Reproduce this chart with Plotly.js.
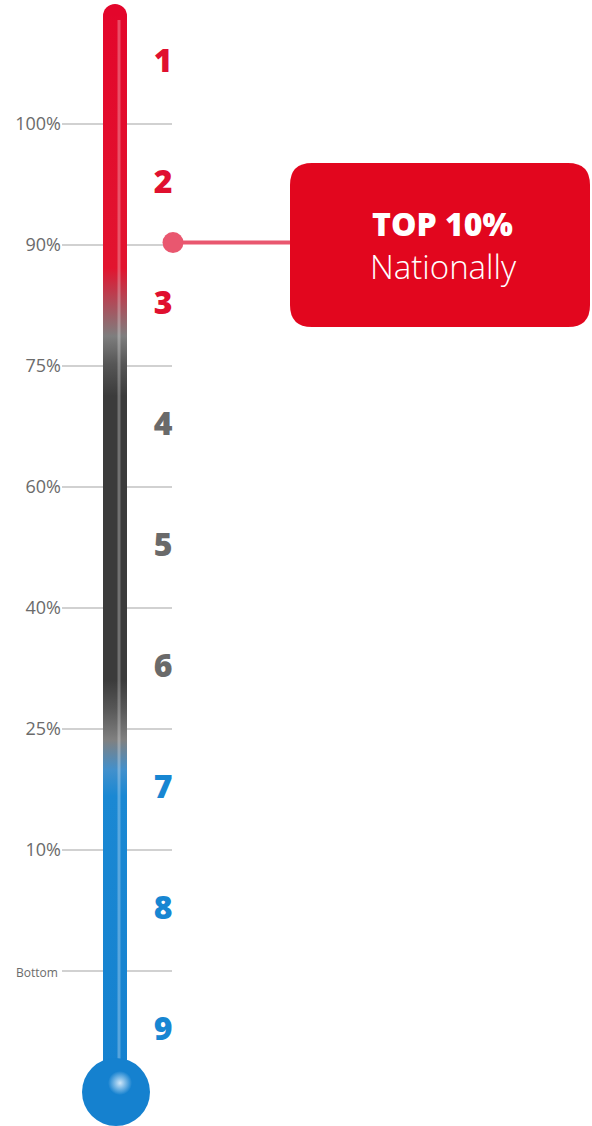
<!DOCTYPE html>
<html><head><meta charset="utf-8">
<script src="https://cdn.plot.ly/plotly-3.0.1.min.js"></script>
<style>html,body{margin:0;padding:0;background:#fff;}#chart{width:592px;height:1126px;}</style>
</head><body><div id="chart"></div>
<script>
// ---- data ----
const tickLabels = ["Bottom", "10%", "25%", "40%", "60%", "75%", "90%", "100%"];
const tickValues = [0, 1, 2, 3, 4, 5, 6, 7];
const rankLabels = ["1", "2", "3", "4", "5", "6", "7", "8", "9"];
const rankValues = [7.5, 6.5, 5.5, 4.5, 3.5, 2.5, 1.5, 0.5, -0.5];
const rankGroups = ["top", "top", "top", "mid", "mid", "mid", "low", "low", "low"];
const calloutValue = 6.02;          // marker just above the 90% line
const calloutBoxValue = 6;          // box centred on the 90% line
const calloutTitle = "TOP 10%";
const calloutSub = "Nationally";

// ---- styling / geometry ----
const RED = "#e3062b", GREY = "#3b3b3b", BLUE = "#1581cf";
const groupColors = {top: "#e0102f", mid: "#6a6a6a", low: "#1786d2"};
const PX_PER = 121, BASE_PX = 971;           // pixel of value 0, pixels per unit
const idx = py => (BASE_PX - py) / PX_PER;   // pixel row -> axis value
const H = 1126, W = 592, ML = 62;
const tubeL = 103, tubeR = 127, tubeTop = 16, bulbY = 1092;
const gradStops = [   // [pixel row, colour]
  [4, RED], [268, "#e2142f"], [302, "#b04a58"], [336, "#7e7e7e"], [364, "#565656"], [396, GREY],
  [680, GREY], [708, "#565656"], [740, "#808080"], [770, "#4290cc"], [796, "#1a88d3"], [bulbY, BLUE]
];
const colorscale = gradStops.slice().reverse().map(([py, c]) => [(bulbY - py) / (bulbY - 4), c]);

const gx = [], gy = [];
tickValues.forEach(v => { gx.push(ML, 172, null); gy.push(v, v, null); });

const traces = [
  {x: gx, y: gy, mode: "lines", line: {color: "#a3a3a3", width: 1}, hoverinfo: "skip"},
  {x: [115], y: [idx(tubeTop)], mode: "markers", marker: {size: 24, color: RED}, hoverinfo: "skip"},
  {x: [tubeL, tubeL, tubeR, tubeR], y: [idx(bulbY), idx(tubeTop), idx(tubeTop), idx(bulbY)],
   mode: "none", fill: "toself",
   fillgradient: {type: "vertical", start: idx(bulbY), stop: idx(4), colorscale: colorscale},
   hoverinfo: "skip"},
  {x: [119, 119], y: [idx(20), idx(1070)], mode: "lines",
   line: {color: "rgba(255,255,255,0.28)", width: 3}, hoverinfo: "skip"},
  {x: [116], y: [idx(bulbY)], mode: "markers", marker: {size: 68, color: BLUE, line: {width: 0}}, hoverinfo: "skip"},
  {x: [120], y: [idx(1083)], mode: "markers",
   marker: {size: 24, color: BLUE, line: {width: 0}, gradient: {type: "radial", color: "#cfe7f9"}}, hoverinfo: "skip"},
  {x: rankValues.map(() => 163), y: rankValues, mode: "text", text: rankLabels,
   textfont: {family: "Open Sans", size: 32, weight: 800, color: rankGroups.map(g => groupColors[g])},
   hoverinfo: "skip"},
  {x: [173, 292], y: [calloutValue, calloutValue], mode: "lines", line: {color: "#e9576f", width: 4}, hoverinfo: "skip"},
  {x: [173], y: [calloutValue], mode: "markers", marker: {size: 21, color: "#e9576f"}, hoverinfo: "skip"}
];

const boxPath = "M -128,-82 L 128,-82 Q 150,-82 150,-60 L 150,60 Q 150,82 128,82 " +
                "L -128,82 Q -150,82 -150,60 L -150,-60 Q -150,-82 -128,-82 Z";

const layout = {
  width: W, height: H, margin: {l: ML, r: 0, t: 0, b: 0},
  paper_bgcolor: "#fff", plot_bgcolor: "#fff", showlegend: false,
  xaxis: {range: [ML, W], visible: false, fixedrange: true},
  yaxis: {range: [idx(H), idx(0)], tickvals: tickValues,
    ticktext: tickLabels.map(t => t === "Bottom" ? '<span style="font-size:12px">' + t + '&nbsp;</span>' : t),
    showgrid: false, zeroline: false, showline: false, ticks: "", ticklabelstandoff: 0,
    tickfont: {family: "Open Sans", size: 18, color: "#6b6b6b"}, fixedrange: true},
  shapes: [{type: "path", xsizemode: "pixel", ysizemode: "pixel", xref: "x", yref: "y",
    xanchor: 440, yanchor: calloutBoxValue, path: boxPath, fillcolor: "#e2061e", line: {width: 0}}],
  annotations: [
    {x: 442, y: calloutBoxValue, xref: "x", yref: "y", yshift: 22, text: calloutTitle, showarrow: false,
     font: {family: "Open Sans", size: 32, weight: 800, color: "#fff"}},
    {x: 443, y: calloutBoxValue, xref: "x", yref: "y", yshift: -21, text: calloutSub, showarrow: false,
     font: {family: "Open Sans", size: 33, weight: 300, color: "#fff"}}
  ]
};
Plotly.newPlot("chart", traces, layout, {displayModeBar: false, staticPlot: true});
</script></body></html>
